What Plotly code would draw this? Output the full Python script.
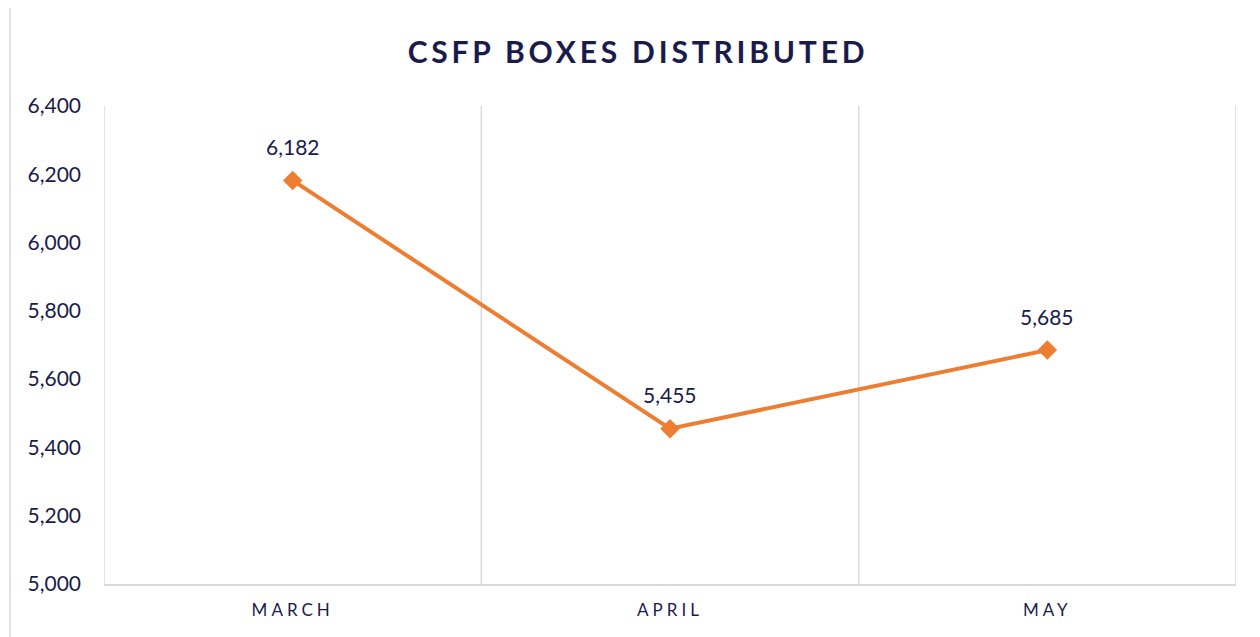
import plotly.graph_objects as go

months = ["MARCH", "APRIL", "MAY"]
boxes = [6182, 5455, 5685]
y_ticks = [5000, 5200, 5400, 5600, 5800, 6000, 6200, 6400]
title_text = "CSFP BOXES DISTRIBUTED"

ORANGE = "#ED7D31"
NAVY = "#1B1B4B"
GRID = "#D9D9D9"

W, H = 1260, 637
OFF = 8  # page offset of the figure
L, R, T, B = 104 - OFF, W - (1236 - OFF), 106 - OFF, H - (584 - OFF)
PW, PH = W - L - R, H - T - B

fig = go.Figure()
fig.add_trace(go.Scatter(
    x=months, y=boxes, mode="lines+markers",
    line=dict(color=ORANGE, width=4),
    marker=dict(symbol="diamond", size=15, color=ORANGE),
    hoverinfo="x+y", showlegend=False,
))

for m, v in zip(months, boxes):
    fig.add_annotation(x=m, y=v, text=f"{v:,}", showarrow=False, yshift=34,
                       font=dict(family="Lato", size=21, color=NAVY))

# vertical category-boundary gridlines
n = len(months)
for i in range(n + 1):
    fig.add_shape(type="line", xref="x", yref="y", x0=i - 0.5, x1=i - 0.5,
                  y0=y_ticks[0], y1=y_ticks[-1], line=dict(color=GRID, width=1.5),
                  layer="below")

# outer chart border
bx0, bx1, by0, by1 = 10 - OFF, 1300, 7 - OFF, 700
fig.add_shape(type="rect", xref="paper", yref="paper",
              x0=(bx0 - L) / PW, x1=(bx1 - L) / PW,
              y0=1 - (by1 - T) / PH, y1=1 - (by0 - T) / PH,
              line=dict(color=GRID, width=1.5), layer="below")

fig.update_layout(
    width=W, height=H,
    margin=dict(l=L, r=R, t=T, b=B),
    paper_bgcolor="white", plot_bgcolor="white",
    title=dict(text=f"<b>{title_text}</b>", x=0.5, xanchor="center",
               y=1 - (52 - OFF) / H, yanchor="middle",
               font=dict(family="Lato", size=30, color=NAVY)),
    xaxis=dict(range=[-0.5, n - 0.5], showgrid=False, showline=True,
               linecolor=GRID, linewidth=1.5, ticks="", zeroline=False,
               ticklabelstandoff=10,
               tickfont=dict(family="Lato", size=17, color=NAVY)),
    yaxis=dict(range=[y_ticks[0], y_ticks[-1]], tickvals=y_ticks,
               tickformat=",", showgrid=False, zeroline=False, showline=False,
               ticks="", ticklabelstandoff=22,
               tickfont=dict(family="Lato", size=21, color=NAVY)),
)

post = """
var gd = document.getElementsByClassName('plotly-graph-div')[0];
function spacing(){
  document.querySelectorAll('.xtick text').forEach(function(t){t.style.letterSpacing='4px';});
  document.querySelectorAll('.gtitle').forEach(function(t){t.style.letterSpacing='3.8px';});
}
spacing();
gd.on('plotly_afterplot', spacing);
"""

fig.write_html("out.html", post_script=post)
